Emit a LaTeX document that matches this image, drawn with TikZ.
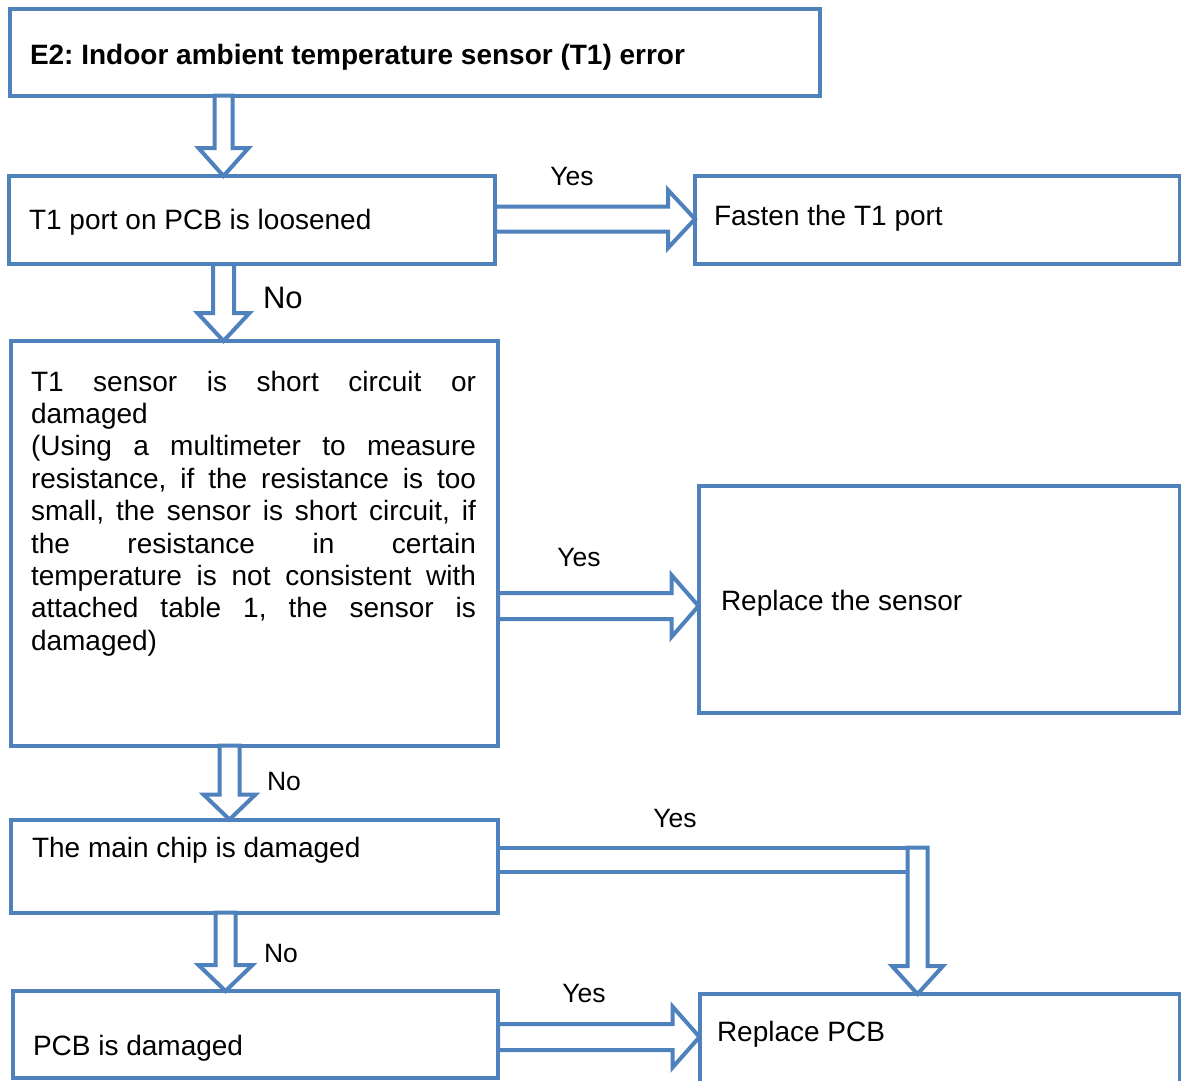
\documentclass[tikz,border=0pt]{standalone}
\usepackage{fontspec}
\setmainfont{Liberation Sans}
\usetikzlibrary{calc}
\definecolor{bl}{HTML}{4F81BD}
\frenchspacing
\tikzset{
  box/.style={draw=bl, line width=4pt, rectangle, inner sep=0pt, outer sep=0pt, anchor=north west},
  txt/.style={inner sep=0pt, outer sep=0pt, anchor=base west, font=\fontsize{28}{32.4}\selectfont},
  lbl/.style={inner sep=0pt, outer sep=0pt, anchor=base, font=\fontsize{26.5}{30}\selectfont},
  nolbl/.style={inner sep=0pt, outer sep=0pt, anchor=base west, font=\fontsize{26.5}{30}\selectfont},
  blk/.style={draw=bl, line width=4pt, fill=white, line join=miter},
}
% vertical block arrow: #1 start (top centre), #2 target (only its y used), #3 shaft half width, #4 head half width, #5 head length
\newcommand\downblk[5]{%
  \draw[blk] let \p1=(#1), \p2=(#2) in
    (\x1-#3pt,\y1) -- (\x1+#3pt,\y1) -- (\x1+#3pt,\y2+#5pt) -- (\x1+#4pt,\y2+#5pt)
    -- (\x1,\y2) -- (\x1-#4pt,\y2+#5pt) -- (\x1-#3pt,\y2+#5pt) -- cycle;}
% horizontal block arrow: #1 start (left centre), #2 target (only its x used)
\newcommand\rightblk[5]{%
  \draw[blk] let \p1=(#1), \p2=(#2) in
    (\x1,\y1+#3pt) -- (\x2-#5pt,\y1+#3pt) -- (\x2-#5pt,\y1+#4pt) -- (\x2,\y1)
    -- (\x2-#5pt,\y1-#4pt) -- (\x2-#5pt,\y1-#3pt) -- (\x1,\y1-#3pt) -- cycle;}
\begin{document}
\begin{tikzpicture}[x=1pt,y=-1pt]
\useasboundingbox (0,0) rectangle (1181,1081);
\clip (0,0) rectangle (1181,1081);
\fill[white] (0,0) rectangle (1181,1081);
% boxes
\node[box, minimum width=810.5pt, minimum height=86pt] (title) at (9.5,9.5) {};
\node[box, minimum width=486pt, minimum height=88pt] (b2) at (9,176) {};
\node[box, minimum width=484.5pt, minimum height=88.5pt] (b3) at (695,175.5) {};
\node[box, minimum width=487pt, minimum height=404.5pt] (b4) at (11,341) {};
\node[box, minimum width=481pt, minimum height=227pt] (b5) at (698.5,486) {};
\node[box, minimum width=487pt, minimum height=93pt] (b6) at (11,819.5) {};
\node[box, minimum width=485.5pt, minimum height=87pt] (b7) at (12.5,991) {};
\node[box, minimum width=480pt, minimum height=95pt] (b8) at (699.5,994) {};
% texts
\node[txt, font=\bfseries\fontsize{28}{32.4}\selectfont] (t0) at (30,65) {E2: Indoor ambient temperature sensor (T1) error};
\node[txt] (t2) at (29,229) {T1 port on PCB is loosened};
\node[txt] (t3) at (714,225) {Fasten the T1 port};
\node[inner sep=0pt, outer sep=0pt, anchor=north west, align=left, font=\fontsize{28}{32.4}\selectfont] (t4) at (31,369)
  {\rule{0pt}{22pt}\makebox[445pt][s]{T1 sensor is short circuit or}\\
   damaged\\
   \makebox[445pt][s]{(Using a multimeter to measure}\\
   \makebox[445pt][s]{resistance, if the resistance is too}\\
   \makebox[445pt][s]{small, the sensor is short circuit, if}\\
   \makebox[445pt][s]{the resistance in certain}\\
   \makebox[445pt][s]{temperature is not consistent with}\\
   \makebox[445pt][s]{attached table 1, the sensor is}\\
   damaged)};
\node[txt] (t5) at (721,610) {Replace the sensor};
\node[txt] (t6) at (32,857) {The main chip is damaged};
\node[txt] (t7) at (33,1055) {PCB is damaged};
\node[txt] (t8) at (717,1041) {Replace PCB};
% arrows
\downblk{$(title.south west)+(214,0)$}{b2.north}{9}{25}{28}
\rightblk{$(b2.east)+(0,-1)$}{b3.west}{12.5}{29}{27}
\downblk{$(b2.south west)+(214.5,0)$}{b4.north}{10.5}{26}{28}
\rightblk{$(b4.east)+(0,62.75)$}{b5.west}{13}{31}{27}
\downblk{$(b4.south west)+(218.5,0)$}{b6.north}{10}{26}{25}
\draw[blk] let \p1=($(b6.north east)+(0,28)$), \p2=($(b6.north east)+(409.5,52)$) in
  (\x1,\y1) rectangle (\x2,\y2);
\downblk{$(b6.north east)+(419.5,28)$}{b8.north}{10}{25.5}{28}
\downblk{$(b6.south west)+(214.5,0)$}{b7.north}{10}{27}{26}
\rightblk{$(b7.east)+(0,2.5)$}{b8.west}{13}{30.5}{27}
% labels
\node[lbl] (y1) at (572,185) {Yes};
\node[nolbl, font=\fontsize{31}{34}\selectfont] (n1) at (263,308) {No};
\node[lbl] (y2) at (579,566) {Yes};
\node[nolbl] (n2) at (267,790) {No};
\node[lbl] (y3) at (675,827) {Yes};
\node[nolbl] (n3) at (264,962) {No};
\node[lbl] (y4) at (584,1002) {Yes};
\end{tikzpicture}
\end{document}
